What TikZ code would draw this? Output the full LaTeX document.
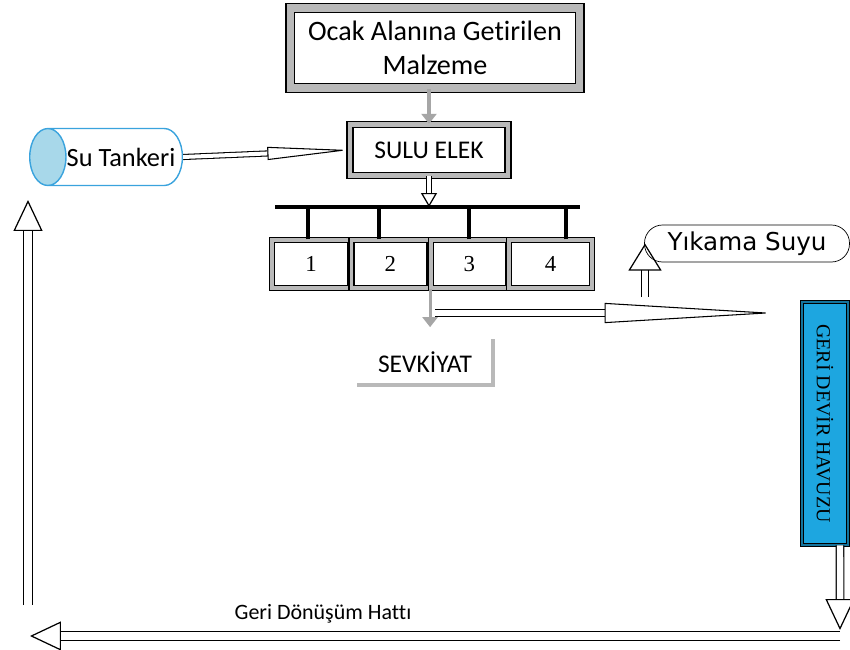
\documentclass[tikz,border=0pt]{standalone}
\usepackage{fontspec}
\setmainfont{Carlito}[Ligatures=NoCommon]
\newfontfamily\timesfont{Liberation Serif}
\newfontfamily\dejafont{DejaVu Sans}
\usetikzlibrary{arrows.meta,positioning,shapes.geometric,calc}
\definecolor{poolblue}{HTML}{1DA6E0}
\definecolor{tankline}{HTML}{3AA3DD}
\definecolor{tankfill}{HTML}{A8D8EA}
\tikzset{
  bevelbox/.style={draw=black, line width=0.8pt, double=gray!55, double distance=2.5pt, fill=white, align=center, inner sep=0pt},
  sievebox/.style={bevelbox, double distance=2pt, minimum height=0.96cm, font=\timesfont\fontsize{13}{15}\selectfont},
  feedarrow/.style={draw=gray!70, line width=1.8pt, -{Triangle[length=0.2cm,width=0.3cm]}},
  hollow/.style={draw=black, line width=0.7pt, double=white, double distance=0.15cm, -{Triangle[open,length=0.62cm,width=0.58cm]}},
  hollowsmall/.style={hollow, double distance=0.09cm, -{Triangle[open,length=0.28cm,width=0.32cm]}},
  taper/.style={draw=black, line width=0.6pt, double=white, double distance=0.08cm}
}

\begin{document}
\begin{tikzpicture}[x=0.02cm, y=-0.02cm]
  \useasboundingbox (0,0) rectangle (850,650);
  % feed and sieve
  \node[bevelbox, double distance=4pt, minimum width=5.8cm, minimum height=1.6cm, font=\fontsize{16}{19}\selectfont] (malzeme) at (435,48) {Ocak Alanına Getirilen\\Malzeme};
  \node[bevelbox, minimum width=3.16cm, minimum height=1.02cm, font=\fontsize{14.5}{17}\selectfont] (elek) at (429,150) {SULU ELEK};
  \node[cylinder, shape border rotate=180, aspect=1.2, draw=tankline, thick, cylinder uses custom fill, cylinder end fill=tankfill, cylinder body fill=white, inner xsep=0pt, minimum width=1.14cm, minimum height=2.23cm, font=\fontsize{15}{18}\selectfont] (tanker) at (121,157) {Su Tankeri};
  \draw[feedarrow] (malzeme.south -| elek.north) -- (elek.north);
  \draw[taper, -{Triangle[open,length=1.64cm,width=0.26cm]}] (tanker.east) -- (elek.west);

  % screens 1-4
  \node[sievebox, minimum width=1.56cm] (b1) at (311,264) {1};
  \node[sievebox, minimum width=1.56cm, right=0pt of b1] (b2) {2};
  \node[sievebox, minimum width=1.54cm, right=0pt of b2] (b3) {3};
  \node[sievebox, minimum width=1.66cm, right=0pt of b3] (b4) {4};
  \coordinate (barL) at (275,207);
  \coordinate (barR) at (580,207);
  \draw[line width=2.4pt] (barL) -- (barR);
  \foreach \b/\dx in {b1/-3, b2/-11, b3/0, b4/15}
    \draw[line width=2.2pt] ([xshift=\dx*0.02cm]\b.north) -- ([xshift=\dx*0.02cm]\b.north |- barL);
  \draw[hollowsmall] (elek.south) -- (elek.south |- barL);

  % shipment
  \node[minimum width=2.7cm, minimum height=0.9cm, font=\fontsize{14.5}{17}\selectfont] (sevk) at (425,362) {SEVKİYAT};
  \draw[gray!55, line width=2pt] (sevk.north east) -- (sevk.south east) -- (sevk.south west);
  \draw[feedarrow, shorten >=0.24cm] (b2.south east) -- (b2.south east |- sevk.north);

  % wash water and pond
  \node[draw=black, fill=poolblue, double=poolblue!70!black, double distance=1.2pt, rotate=-90, minimum width=4.86cm, minimum height=0.92cm, inner sep=0pt, font=\timesfont\fontsize{11.3}{13}\selectfont] (havuz) at (825,423.5) {GERİ DEVİR HAVUZU};
  \node[draw, rounded corners=0.36cm, minimum width=4.1cm, minimum height=0.74cm, font=\dejafont\fontsize{14}{16}\selectfont] (yikama) at (747,243.5) {Yıkama Suyu};
  \coordinate (washL) at (435,313);
  \draw[taper, double distance=0.13cm, shorten >=0.54cm, -{Triangle[open,length=3.4cm,width=0.4cm]}] (washL) -- (washL -| havuz.south);
  \coordinate (wup) at (645,297);
  \draw[hollow, double distance=0.12cm, -{Triangle[open,length=0.54cm,width=0.66cm]}] (wup) -- (wup |- yikama.west);

  % return line
  \coordinate (retR) at (840,636);
  \coordinate (retL) at (30,636);
  \coordinate (upS) at (28,605);
  \coordinate (upN) at (28,200);
  \draw[hollow, double distance=0.13cm] ([xshift=0.3cm]havuz.east) -- ([yshift=0.12cm]retR);
  \draw[hollow, double distance=0.16cm] (retR) -- (retL);
  \draw[hollow, double distance=0.16cm] (upS) -- (upN);
  \node[font=\fontsize{12.5}{15}\selectfont] (hatt) at (323,614) {Geri Dönüşüm Hattı};
\end{tikzpicture}
\end{document}
